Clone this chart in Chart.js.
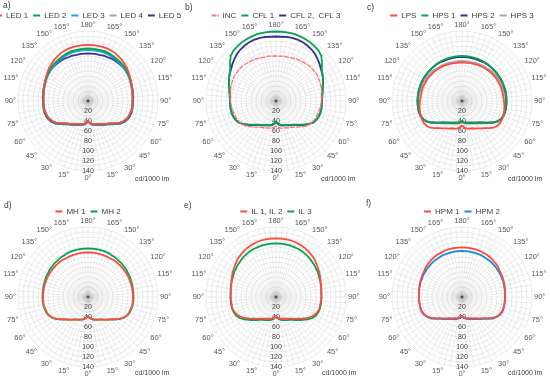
<!DOCTYPE html>
<html>
<head>
<meta charset="utf-8">
<script src="https://cdn.jsdelivr.net/npm/chart.js@4.4.0/dist/chart.umd.min.js"></script>
<style>
body { margin:0; width:550px; height:382px; overflow:hidden; position:relative; background:#fff;
       font-family:"Liberation Sans", Arial, sans-serif; color:#404040; }
canvas { position:absolute; }
.tag { position:absolute; font-size:8.5px; z-index:2; }
.unit { position:absolute; font-size:7px; z-index:2; }
</style>
</head>
<body>
<canvas id="pa" width="210" height="190" style="left:-17px;top:0"></canvas>
<canvas id="pb" width="210" height="190" style="left:171px;top:0"></canvas>
<canvas id="pc" width="210" height="190" style="left:357px;top:0"></canvas>
<canvas id="pd" width="210" height="190" style="left:-17px;top:196px"></canvas>
<canvas id="pe" width="210" height="190" style="left:171px;top:196px"></canvas>
<canvas id="pf" width="210" height="190" style="left:357px;top:196px"></canvas>

<div class="tag" style="left:3px;top:0">a)</div>
<div class="tag" style="left:185px;top:2px">b)</div>
<div class="tag" style="left:367px;top:2px">c)</div>
<div class="tag" style="left:4px;top:200px">d)</div>
<div class="tag" style="left:184px;top:200px">e)</div>
<div class="tag" style="left:366px;top:198px">f)</div>
<div class="unit" style="left:135px;top:175px">cd/1000 lm</div>
<div class="unit" style="left:321px;top:175px">cd/1000 lm</div>
<div class="unit" style="left:508px;top:175px">cd/1000 lm</div>
<div class="unit" style="left:135px;top:369px">cd/1000 lm</div>
<div class="unit" style="left:322px;top:369px">cd/1000 lm</div>
<div class="unit" style="left:508px;top:369px">cd/1000 lm</div>

<script>
// angles from 0 (down) to 180 (up), one side; the other side is the mirror
const halfAngles = [0,5,10,15,20,25,30,35,40,45,50,55,60,65,70,75,80,85,90,
                    95,100,105,110,115,120,125,130,135,140,145,150,155,160,165,170,175,180];
const angleTickAngles = [0,15,30,45,60,75,90,105,120,135,150,165,180];
const angleTickText = ['0°','15°','30°','45°','60°','75°','90°','115°','120°','135°','150°','165°','180°'];
const radialTickValues = [20,40,60,80,100,120,140];
const radialTickLabels = ['20','40','60','80','100','120','140'];

// a) LED
const led1 = [40,44,47,48,49,51,53,56,59,63,69,76,81,85,87,88,89,89,89,90,90,91,93,95,97,99,102,104,106,108,110,111,112,112,112,112,112];
const led2 = [40,44,47,49,50,52,54,57,60,64,70,77,82,86,88,89,90,90,90,90,91,92,93,94,96,97,99,100,101,102,103,104,105,105,105,105,105];
const led3 = [40,44,47,49,50,52,54,57,60,64,70,77,82,85,87,88,89,89,89,89,90,91,92,93,95,96,97,98,99,100,100,101,102,102,102,102,102];
const led4 = [40,44,47,49,50,52,54,57,60,64,70,77,82,85,87,88,89,89,89,89,90,91,92,93,95,96,97,98,99,100,101,102,103,103,103,103,103];
const led5 = [41,45,48,50,51,53,55,58,61,66,72,79,84,87,89,90,90,90,90,91,91,92,93,94,95,96,97,97,97,97,97,96,96,95,95,95,95];

// b) INC / CFL
const inc  = [50,53,55,56,57,59,61,64,68,73,78,82,84,86,87,88,89,90,91,92,93,94,95,96,97,97,97,97,96,95,94,93,92,91,91,90,90];
const cfl1 = [41,45,48,50,51,53,55,58,62,67,73,80,86,89,91,92,92,92,92,93,95,97,100,104,107,112,120,128,132,134,136,137,138,139,139,139,139];
const cfl23 = [42,46,49,51,52,54,56,59,63,68,74,81,86,89,91,92,92,92,92,92,94,96,100,104,107,110,114,118,122,125,127,129,130,130,130,129,129];

// c) LPS / HPS
const lps  = [49,53,56,57,58,61,63,67,71,77,83,86,88,88,88,87,86,85,84,83,83,83,83,82,82,82,81,81,80,80,79,79,78,78,77,77,77];
const hps1 = [40,43,44,45,46,48,50,53,56,61,67,75,82,86,88,89,89,89,89,89,89,89,89,89,89,89,89,89,89,90,90,90,90,90,90,90,90];
const hps2 = [40,43,44,45,46,48,50,53,56,61,67,75,82,86,88,89,89,89,89,89,89,89,89,89,89,89,89,89,89,89,89,88,88,88,88,88,88];
const hps3 = [42,45,46,47,48,50,52,55,58,63,69,76,82,85,87,87,87,87,87,87,87,86,86,86,85,85,84,84,83,82,82,81,81,80,80,80,80];

// d) MH
const mh1 = [38,42,45,47,48,50,52,55,59,63,69,76,82,86,88,89,90,90,90,90,90,90,90,90,90,90,90,90,90,90,89,89,89,89,89,89,89];
const mh2 = [38,42,45,47,48,50,52,55,59,64,70,77,83,87,89,90,91,91,91,91,91,92,92,93,93,94,94,95,95,96,96,97,97,97,97,97,97];

// e) IL
const il12 = [38,42,44,45,46,48,50,53,57,61,67,74,80,85,88,90,90,90,91,91,92,93,95,97,100,102,105,108,110,112,114,115,116,117,117,117,117];
const il3  = [39,43,46,48,49,51,53,56,60,65,71,78,84,88,90,91,91,91,91,91,92,93,94,95,97,98,100,101,103,104,105,106,106,107,107,107,107];

// f) HPM
const hpm1 = [38,41,43,44,45,47,49,52,56,60,66,73,79,83,85,86,86,86,86,86,87,88,89,90,91,92,94,95,96,97,98,98,99,99,99,99,99];
const hpm2 = [39,42,44,46,47,49,51,54,58,62,68,75,80,84,86,86,86,86,86,86,87,87,88,88,89,89,90,90,91,91,91,92,92,92,92,92,92];

const RED = '#ff4a42', GREEN = '#00a651', CYAN = '#1ba6e0', GRAY = '#a6a6a6', PURPLE = '#3d2f8f', BLUE = '#1b8bd6';
const FONT = '"Liberation Sans", Arial, sans-serif';

function mirror(half) {
  return half.concat(half.slice(1, 36).reverse());
}
const categories = mirror(halfAngles);

const radialTicks = {
  id: 'radialTicks',
  beforeDatasetsDraw(chart) {
    const r = chart.scales.r;
    const ctx = chart.ctx;
    ctx.save();
    ctx.font = '7px ' + FONT;
    ctx.fillStyle = '#404040';
    ctx.textAlign = 'center';
    ctx.textBaseline = 'middle';
    radialTickValues.forEach((v, i) => {
      const p = r.getPointPositionForValue(0, v);
      ctx.fillText(radialTickLabels[i], p.x, p.y);
    });
    ctx.restore();
  }
};

function makeChart(id, series) {
  const datasets = series.map(s => ({
    label: s.label,
    data: mirror(s.data),
    borderColor: s.color,
    backgroundColor: s.color,
    borderWidth: s.width || 1.8,
    borderDash: s.dash || [],
    pointRadius: 0,
    pointBorderWidth: 2,
    pointStyle: 'line',
    fill: false,
    tension: 0
  }));
  new Chart(document.getElementById(id), {
    type: 'radar',
    data: { labels: categories.map(a => a + '°'), datasets: datasets },
    plugins: [radialTicks],
    options: {
      responsive: false,
      animation: false,
      layout: { padding: { top: 6.5, bottom: 8 } },
      plugins: {
        tooltip: { enabled: false },
        legend: {
          maxHeight: 13.5,
          labels: {
            usePointStyle: true,
            pointStyleWidth: 7,
            padding: 5,
            color: '#404040',
            font: { size: 8, family: FONT },
            generateLabels(chart) {
              const items = Chart.defaults.plugins.legend.labels.generateLabels(chart);
              items.forEach((it, i) => {
                it.lineDash = chart.data.datasets[i].borderDash;
                it.lineWidth = 2;
              });
              return items;
            }
          }
        }
      },
      scales: {
        r: {
          min: 0,
          max: 140,
          startAngle: 180,
          ticks: { display: false, stepSize: 10, maxTicksLimit: 20 },
          grid: { circular: true, color: 'rgba(0,0,0,0.1)', lineWidth: 0.8 },
          angleLines: { color: 'rgba(0,0,0,0.09)', lineWidth: 0.8 },
          pointLabels: {
            padding: 2,
            color: '#595959',
            font: { size: 7.5, family: FONT },
            callback: (label, i) => {
              const k = angleTickAngles.indexOf(categories[i]);
              return k >= 0 ? angleTickText[k] : '';
            }
          }
        }
      }
    }
  });
}

makeChart('pa', [
  { label: 'LED 1', data: led1, color: RED },
  { label: 'LED 2', data: led2, color: GREEN },
  { label: 'LED 3', data: led3, color: CYAN },
  { label: 'LED 4', data: led4, color: GRAY },
  { label: 'LED 5', data: led5, color: PURPLE }
]);
makeChart('pb', [
  { label: 'INC', data: inc, color: '#ff7070', width: 1.3, dash: [5, 1] },
  { label: 'CFL 1', data: cfl1, color: GREEN },
  { label: 'CFL 2,  CFL 3', data: cfl23, color: PURPLE }
]);
makeChart('pc', [
  { label: 'LPS', data: lps, color: RED },
  { label: 'HPS 1', data: hps1, color: GREEN },
  { label: 'HPS 2', data: hps2, color: PURPLE },
  { label: 'HPS 3', data: hps3, color: GRAY }
]);
makeChart('pd', [
  { label: 'MH 1', data: mh1, color: RED },
  { label: 'MH 2', data: mh2, color: GREEN }
]);
makeChart('pe', [
  { label: 'IL 1, IL 2', data: il12, color: RED },
  { label: 'IL 3', data: il3, color: GREEN }
]);
makeChart('pf', [
  { label: 'HPM 1', data: hpm1, color: RED },
  { label: 'HPM 2', data: hpm2, color: BLUE }
]);
</script>
</body>
</html>
